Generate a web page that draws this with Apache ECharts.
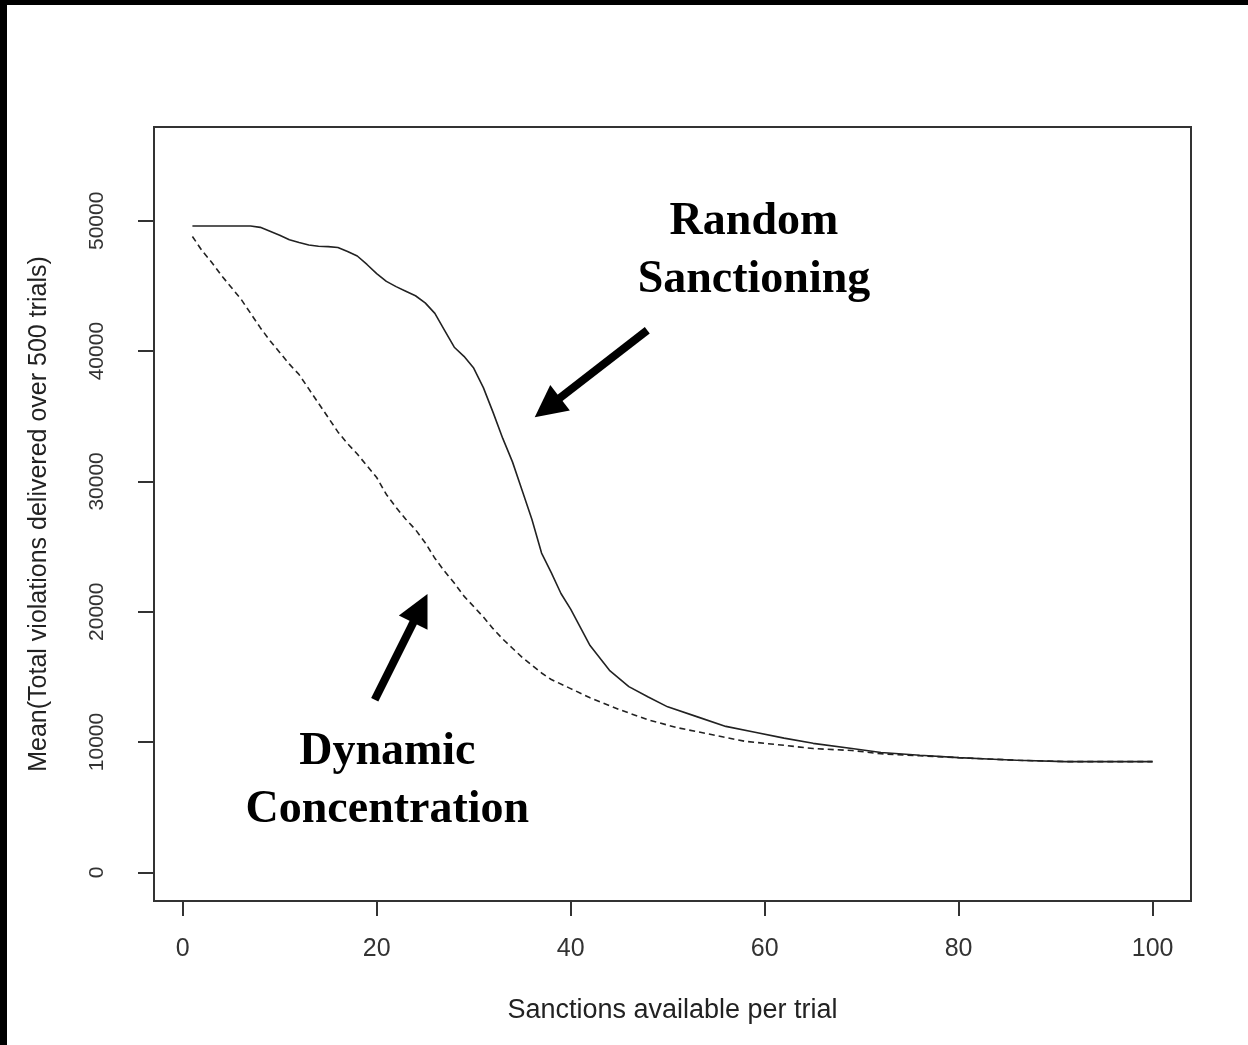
<!DOCTYPE html>
<html>
<head>
<meta charset="utf-8">
<script src="https://cdn.jsdelivr.net/npm/echarts@6/dist/echarts.min.js"></script>
<style>
  html, body { margin: 0; padding: 0; background: #fff; }
  #main { width: 1248px; height: 1045px; }
</style>
</head>
<body>
<div id="main"></div>
<script>
// sanctions available per trial (x) and mean total violations (y)
var randomX = [1, 7, 8, 9, 10, 11, 12, 13, 14, 15, 16, 17, 18, 19, 20, 21, 22, 23, 24, 25, 26, 27, 28, 29, 30,
  31, 32, 33, 34, 35, 36, 37, 38, 39, 40, 42, 44, 46, 48, 50, 53, 56, 59, 62, 65, 69, 72, 76, 80, 83, 86, 91, 100];
var randomY = [49600, 49600, 49500, 49200, 48900, 48550, 48330, 48150, 48050, 48020, 47950, 47650, 47300, 46650,
  45950, 45350, 44950, 44600, 44250, 43700, 42900, 41600, 40300, 39600, 38700, 37200, 35300, 33300, 31500, 29300,
  27100, 24500, 23000, 21400, 20200, 17400, 15500, 14250, 13450, 12700, 11950, 11200, 10750, 10300, 9900, 9500,
  9200, 8980, 8800, 8700, 8600, 8500, 8500];

var dynamicX = [1, 2, 3, 4, 5, 6, 7, 8, 9, 10, 11, 12, 13, 14, 15, 16, 17, 18, 19, 20, 21, 22, 23, 24, 25, 26, 27,
  28, 29, 30, 31, 32, 33, 34, 35, 36, 37, 38, 40, 42, 45, 48, 51, 55, 58, 62, 65, 69, 72, 76, 80, 83, 86, 91, 100];
var dynamicY = [48800, 47700, 46800, 45800, 44900, 44000, 42900, 41800, 40800, 39900, 39000, 38200, 37100, 36000,
  34900, 33800, 32900, 32100, 31200, 30300, 29000, 28000, 27100, 26300, 25300, 24100, 23100, 22200, 21200, 20400,
  19600, 18700, 17900, 17200, 16500, 15900, 15300, 14800, 14100, 13400, 12500, 11700, 11100, 10500, 10050, 9750,
  9500, 9350, 9100, 8950, 8800, 8700, 8600, 8500, 8500];

var xTicks = [0, 20, 40, 60, 80, 100];
var yTicks = [0, 10000, 20000, 30000, 40000, 50000];

// annotation arrows (tail -> head) and labels, in data units
var arrowRandom = [[47.9, 41600], [37.6, 35670]];
var arrowDynamic = [[19.8, 13250], [24.5, 20260]];
var labelRandom = { x: 58.9, lines: ['Random', 'Sanctioning'], y: [49920, 45450] };
var labelDynamic = { x: 21.1, lines: ['Dynamic', 'Concentration'], y: [9245, 4776] };

function pairs(xs, ys) {
  return xs.map(function (x, i) { return [x, ys[i]]; });
}

var chart = echarts.init(document.getElementById('main'), null, { renderer: 'canvas' });
var axisFont = 'Liberation Sans, Arial, sans-serif';
var noteFont = 'Liberation Serif, Times New Roman, serif';

var option = {
  animation: false,
  backgroundColor: '#fff',
  grid: {
    left: 154, top: 127, width: 1037, height: 774,
    show: true, borderColor: '#333', borderWidth: 2, backgroundColor: 'transparent'
  },
  xAxis: {
    type: 'value',
    min: -2.96, max: 103.96,
    name: 'Sanctions available per trial',
    nameLocation: 'middle', nameGap: 96,
    nameTextStyle: { fontFamily: axisFont, fontSize: 27, color: '#222' },
    axisLine: { show: true, onZero: false, lineStyle: { color: '#333', width: 2 } },
    axisTick: { show: true, inside: false, length: 15, customValues: xTicks, lineStyle: { color: '#333', width: 2 } },
    axisLabel: { customValues: xTicks, margin: 36, fontFamily: axisFont, fontSize: 25, color: '#333' },
    splitLine: { show: false }
  },
  yAxis: {
    type: 'value',
    min: -2200, max: 57200,
    name: 'Mean(Total violations delivered over 500 trials)',
    nameLocation: 'middle', nameGap: 102, nameRotate: 90,
    nameTextStyle: { fontFamily: axisFont, fontSize: 25, color: '#222' },
    axisLine: { show: true, onZero: false, lineStyle: { color: '#333', width: 2 } },
    axisTick: { show: true, inside: false, length: 16, customValues: yTicks, lineStyle: { color: '#333', width: 2 } },
    axisLabel: {
      customValues: yTicks, rotate: 90, margin: 46, fontFamily: axisFont, fontSize: 21, color: '#333',
      formatter: function (v) { return String(v); }
    },
    splitLine: { show: false }
  },
  series: [
    {
      name: 'Random Sanctioning',
      type: 'line',
      data: pairs(randomX, randomY),
      showSymbol: false,
      smooth: false,
      lineStyle: { color: '#222', width: 1.6 },
      markLine: {
        silent: true,
        symbol: ['none', 'triangle'],
        symbolSize: [32, 32],
        label: { show: false },
        lineStyle: { color: '#000', width: 8, type: 'solid' },
        data: [
          [{ coord: arrowRandom[0] }, { coord: arrowRandom[1] }],
          [{ coord: arrowDynamic[0] }, { coord: arrowDynamic[1] }]
        ]
      }
    },
    {
      name: 'Dynamic Concentration',
      type: 'line',
      data: pairs(dynamicX, dynamicY),
      showSymbol: false,
      smooth: false,
      lineStyle: { color: '#222', width: 1.6, type: [6, 4] }
    }
  ]
};
chart.setOption(option);

function noteTexts(lbl) {
  return lbl.lines.map(function (t, i) {
    var p = chart.convertToPixel({ gridIndex: 0 }, [lbl.x, lbl.y[i]]);
    return {
      type: 'text', x: p[0], y: p[1],
      style: { text: t, fontFamily: noteFont, fontWeight: 'bold', fontSize: 46, fill: '#000',
        align: 'center', verticalAlign: 'middle' }
    };
  });
}

chart.setOption({
  graphic: [
    { type: 'rect', shape: { x: 0, y: 0, width: 1248, height: 5 }, style: { fill: '#000' } },
    { type: 'rect', shape: { x: 0, y: 0, width: 7, height: 1045 }, style: { fill: '#000' } }
  ].concat(noteTexts(labelRandom), noteTexts(labelDynamic))
});
</script>
</body>
</html>
